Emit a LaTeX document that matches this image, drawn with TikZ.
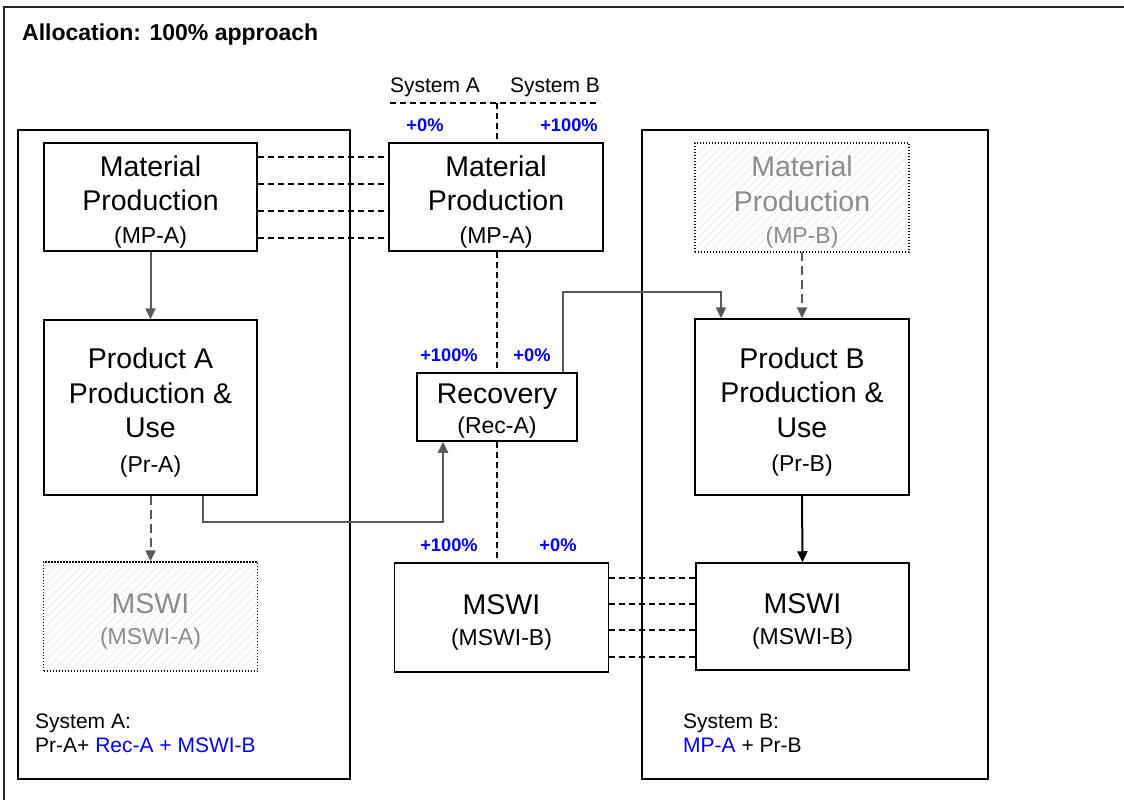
\documentclass[tikz,border=0pt]{standalone}
\usepackage{fontspec}
\setmainfont{Liberation Sans}
\usetikzlibrary{arrows.meta,patterns.meta,calc}
\definecolor{arrgray}{HTML}{595959}
\definecolor{txtgray}{HTML}{8C8C8C}
\definecolor{pblue}{HTML}{0000FF}
\tikzset{
  box/.style={draw=black,line width=1.5pt,fill=white,inner sep=0pt},
  ghost/.style={draw=black,line width=1.3pt,dash pattern=on 1.3pt off 1.7pt,
    pattern={Lines[angle=45,distance=6pt,line width=0.9pt]},pattern color=black!12,
    inner sep=0pt},
  btext/.style={align=center,inner sep=0pt,font=\fontsize{28.5}{34.5}\selectfont,yshift=-5pt},
  gtext/.style={btext,text=txtgray},
  sysbox/.style={draw=black,line width=1.2pt},
  dline/.style={draw=black,line width=1.8pt,dash pattern=on 6pt off 4pt},
  garrow/.style={draw=arrgray,line width=2pt,-{Triangle[length=11pt,width=10pt]}},
  gdarrow/.style={garrow,dash pattern=on 9pt off 5pt},
  pct/.style={text=pblue,font=\fontsize{18.3}{21}\selectfont\bfseries,inner sep=0pt},
  hdr/.style={font=\fontsize{21}{24}\selectfont,inner sep=0pt},
  note/.style={font=\fontsize{21}{24}\selectfont,align=left,inner sep=0pt,anchor=north west}
}
\newcommand{\sub}[1]{{\fontsize{23}{27}\selectfont #1}}
\begin{document}
\begin{tikzpicture}[x=1pt,y=-1pt]
\useasboundingbox (0,0) rectangle (1124,800);
\fill[white] (0,0) rectangle (1124,800);
% outer frame (only top and left inside the picture)
\draw[line width=1.2pt,draw=black!85] (4,820) -- (4,7) -- (1140,7);
\node[anchor=west,font=\fontsize{23}{26}\selectfont\bfseries,inner sep=0pt] (title) at (22,35) {Allocation: 100\% approach};
% system boxes
\draw[sysbox] (18,130) rectangle (350,779);
\draw[sysbox] (642,130) rectangle (988,779);

% boxes
\node[box,minimum width=213pt,minimum height=108pt] (mpaL) at (150.5,197) {};
\node[box,minimum width=214pt,minimum height=108pt] (mpaM) at (496,197) {};
\node[ghost,minimum width=214pt,minimum height=109pt] (mpb) at (802,197.5) {};
\node[box,minimum width=213pt,minimum height=175pt] (pra) at (150.5,407.5) {};
\node[box,minimum width=214pt,minimum height=176pt] (prb) at (802,407) {};
\node[box,minimum width=160pt,minimum height=68pt] (rec) at (497,407) {};
\node[ghost,minimum width=214pt,minimum height=109pt] (mswiA) at (150.5,616.5) {};
\node[box,minimum width=214pt,minimum height=109pt] (mswiM) at (501.5,617.5) {};
\node[box,minimum width=213pt,minimum height=107pt] (mswiR) at (802.5,616.5) {};
% box texts
\node[btext] (mpaLt) at (mpaL.center) {Material\\Production\\[-2pt]\sub{(MP-A)}};
\node[btext] (mpaMt) at (mpaM.center) {Material\\Production\\[-2pt]\sub{(MP-A)}};
\node[gtext] (mpbt) at (mpb.center) {Material\\Production\\[-2pt]\sub{(MP-B)}};
\node[btext] (prat) at (pra.center) {Product A\\Production \&\\Use\\\sub{(Pr-A)}};
\node[btext] (prbt) at (prb.center) {Product B\\Production \&\\Use\\\sub{(Pr-B)}};
\node[btext,yshift=1pt] (rect) at (rec.center) {Recovery\\[-4pt]\sub{(Rec-A)}};
\node[gtext] (mswiAt) at (mswiA.center) {MSWI\\[-4pt]\sub{(MSWI-A)}};
\node[btext] (mswiMt) at (mswiM.center) {MSWI\\[-4pt]\sub{(MSWI-B)}};
\node[btext] (mswiRt) at (mswiR.center) {MSWI\\[-4pt]\sub{(MSWI-B)}};

% system divider
\node[hdr] (sysA) at (435,87) {System A};
\node[hdr] (sysB) at (555,87) {System B};
\coordinate (hl) at (390,103);
\coordinate (hr) at (600,103);
\coordinate (ctop) at (497,103);
\draw[dline] (hl) -- (hr);
\draw[dline] (ctop) -- (ctop |- mpaM.north);
\draw[dline] (ctop |- mpaM.south) -- (ctop |- rec.north);
\draw[dline] (ctop |- rec.south) -- (ctop |- mswiM.north);

% percentages
\node[pct] (p1) at (425,125) {+0\%};
\node[pct] (p2) at (569,125) {+100\%};
\node[pct] (p3) at (449,355) {+100\%};
\node[pct] (p4) at (532,355) {+0\%};
\node[pct] (p5) at (449,545) {+100\%};
\node[pct] (p6) at (558,545) {+0\%};

% dashed equivalence links
\foreach \y in {157,184,211,238}
  \draw[dline] (mpaL.east |- 0,\y) -- (mpaM.west |- 0,\y);
\foreach \y in {578,604,630,657}
  \draw[dline] (mswiM.east |- 0,\y) -- (mswiR.west |- 0,\y);

% arrows
\draw[garrow] (mpaL.south) -- (pra.north);
\draw[gdarrow] (pra.south) -- (mswiA.north);
\draw[garrow] (pra.south -| 203,0) -- (203,522) -- (443,522) -- (rec.south -| 443,0);
\draw[garrow] (rec.north -| 563,0) -- (563,292) -- (721,292) -- (prb.north -| 721,0);
\draw[gdarrow] (mpb.south) -- (prb.north);
\draw[line width=2pt,draw=black,-{Triangle[length=11pt,width=10pt]}] (prb.south) -- (mswiR.north);

% notes
\node[note] (noteA) at (35,714) {System A:\\Pr-A+ \textcolor{pblue}{Rec-A + MSWI-B}};
\node[note] (noteB) at (683,714) {System B:\\\textcolor{pblue}{MP-A} + Pr-B};
\end{tikzpicture}
\end{document}
